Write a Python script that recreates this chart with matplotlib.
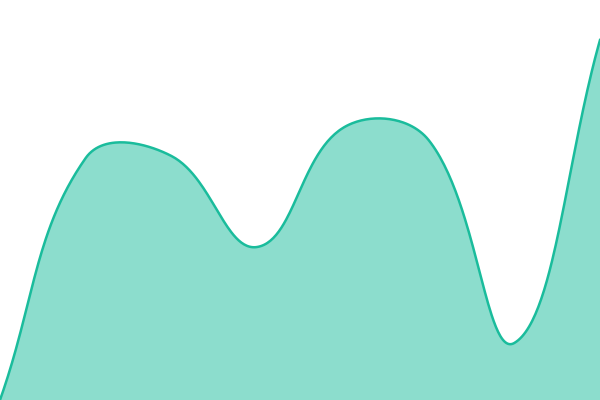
import numpy as np
import matplotlib
matplotlib.use("Agg")
import matplotlib.pyplot as plt

# valores (0 = borde inferior, 400 = borde superior)
puntos = [0, 1, 2, 3, 4, 5, 6, 7]
valores = [0, 242, 244, 153, 272, 260, 57, 360]

linea_color = "#1abc9c"
relleno_color = "#1abc9c"
tension = 0.4

ANCHO, ALTO = 600, 400


def curva(x, y, t=0.4, pasos=60):
    # bezier como el splineCurve de chart.js (se calcula en pixeles)
    esc = ANCHO / (x[-1] - x[0])
    px = (np.asarray(x, float) - x[0]) * esc
    py = np.asarray(y, float)
    n = len(px)
    ctrl = []
    for i in range(n):
        a = max(i - 1, 0)
        b = min(i + 1, n - 1)
        d01 = np.hypot(px[i] - px[a], py[i] - py[a])
        d12 = np.hypot(px[b] - px[i], py[b] - py[i])
        s = d01 + d12
        s01 = d01 / s if s else 0
        s12 = d12 / s if s else 0
        dx, dy = px[b] - px[a], py[b] - py[a]
        ctrl.append(((px[i] - t * s01 * dx, py[i] - t * s01 * dy),
                     (px[i] + t * s12 * dx, py[i] + t * s12 * dy)))
    xs, ys = [], []
    u = np.linspace(0, 1, pasos, endpoint=False)
    for i in range(n - 1):
        p0 = np.array([px[i], py[i]])
        p1 = np.array(ctrl[i][1])
        p2 = np.array(ctrl[i + 1][0])
        p3 = np.array([px[i + 1], py[i + 1]])
        pts = (np.outer((1 - u) ** 3, p0) + np.outer(3 * (1 - u) ** 2 * u, p1)
               + np.outer(3 * (1 - u) * u ** 2, p2) + np.outer(u ** 3, p3))
        xs.extend(pts[:, 0])
        ys.extend(pts[:, 1])
    xs.append(px[-1])
    ys.append(py[-1])
    return np.array(xs), np.array(ys)


xs, ys = curva(puntos, valores, tension)

fig = plt.figure(figsize=(6, 4), dpi=100)
ax = fig.add_axes([0, 0, 1, 1])
ax.fill_between(xs, 0, ys, color=relleno_color, alpha=0.5, linewidth=0)
ax.plot(xs, ys, color=linea_color, linewidth=1.8)
ax.set_xlim(0, ANCHO)
ax.set_ylim(0, ALTO)
ax.axis("off")

fig.savefig("out.png", dpi=100)
